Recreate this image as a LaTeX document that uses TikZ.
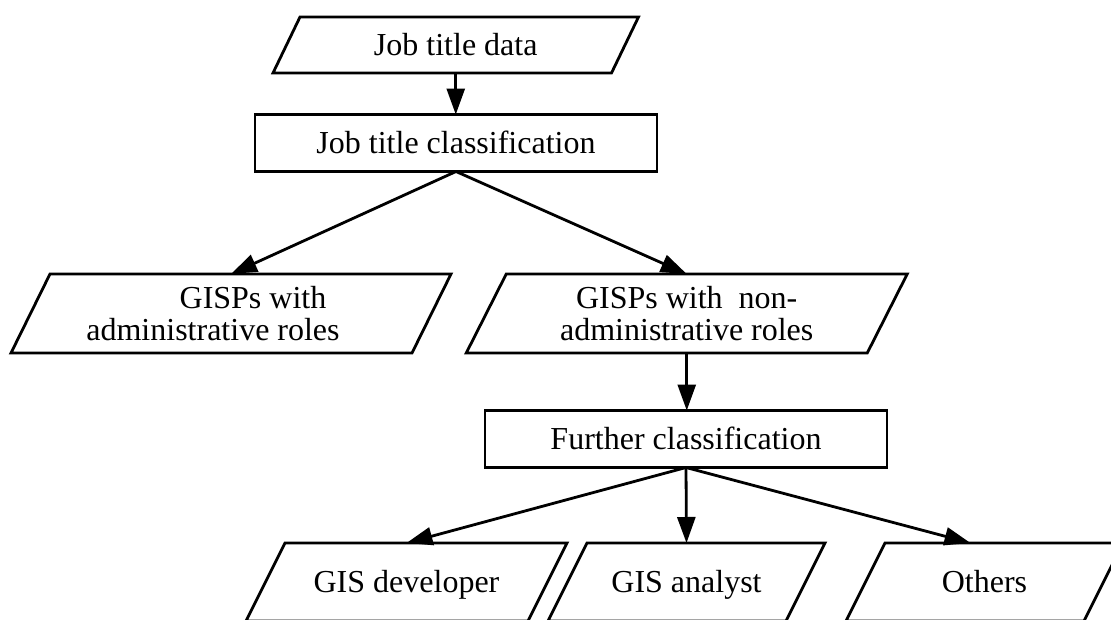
\documentclass[tikz,border=0pt]{standalone}
\usepackage{fontspec}
\setmainfont{Liberation Serif}
\usetikzlibrary{arrows.meta,calc}

% Parallelogram outline around a named node: top edge shifted right, bottom edge shifted left
\newcommand{\slantoutline}[2]{%
  \draw[outline] ($(#1.north west)+(#2,0)$) -- ($(#1.north east)+(#2,0)$)
    -- ($(#1.south east)-(#2,0)$) -- ($(#1.south west)-(#2,0)$) -- cycle;}

\begin{document}
\begin{tikzpicture}[x=1pt,y=-1pt,
  outline/.style={line width=2.8pt, line join=miter, draw=black},
  label font/.style={font=\fontsize{32}{32}\selectfont},
  oneline/.style={text height=25pt, text depth=5pt},
  box/.style={draw, outline, label font, oneline, minimum width=402pt, minimum height=57pt,
    inner sep=0pt, outer sep=0pt},
  slot/.style={label font, align=center, minimum height=79pt,
    inner sep=0pt, outer sep=0pt},
  flow/.style={line width=2.8pt, -{Triangle[length=26pt,width=18pt]}}]
\useasboundingbox (0,0) rectangle (1111,619);
\clip (0,0) rectangle (1111,619);

% first level
\node[slot, oneline, minimum width=338.5pt, minimum height=56pt] (data) at (455.75,45) {Job title data};
\slantoutline{data}{13.5}
\node[box] (cls) at (456,143) {Job title classification};

% second level
\node[slot, minimum width=401pt] (adm) at (231,313.5)
  {\rule{44pt}{0pt}GISPs with\\administrative roles\rule{36pt}{0pt}};
\slantoutline{adm}{19.5}
\node[slot, minimum width=401pt] (nadm) at (686.75,313.5)
  {GISPs with\ \ non-\\administrative roles};
\slantoutline{nadm}{20}

% third level
\node[box] (further) at (686,439) {Further classification};
\node[slot, oneline, minimum width=282pt, minimum height=78pt] (dev) at (406.5,582) {GIS developer};
\slantoutline{dev}{19.5}
\node[slot, oneline, minimum width=238pt, minimum height=78pt] (ana) at (686.5,582) {GIS analyst};
\slantoutline{ana}{19.5}
\node[slot, oneline, minimum width=238pt, minimum height=78pt] (oth) at (984.5,582) {Others};
\slantoutline{oth}{19.5}

% connectors
\draw[flow] (data.south) -- (data.south |- cls.north);
\draw[flow] (cls.south) -- (adm.north);
\draw[flow] (cls.south) -- (nadm.north);
\draw[flow] (nadm.south) -- (nadm.south |- further.north);
\draw[flow] (further.south) -- (dev.north);
\draw[flow] (further.south) -- (ana.north);
\draw[flow] (further.south) -- ([xshift=-14pt]oth.north);
\end{tikzpicture}
\end{document}
